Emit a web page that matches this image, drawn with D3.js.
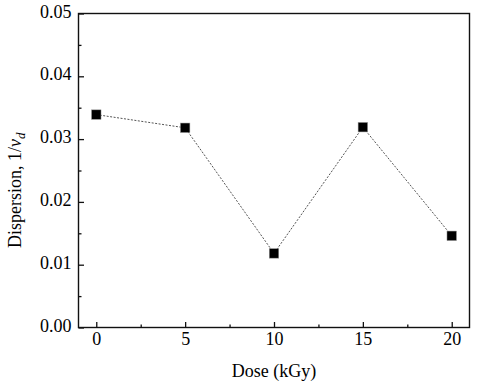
<!DOCTYPE html>
<html><head><meta charset="utf-8">
<script src="https://cdn.jsdelivr.net/npm/d3@7"></script>
<style>body{margin:0;background:#fff}svg{display:block}text{font-family:"Liberation Serif","Times New Roman",Times,serif;fill:#000}</style>
</head><body><svg id="c" width="481" height="385"></svg>
<script>
const doses = [0, 5, 10, 15, 20];
const dispersion = [0.0339, 0.0318, 0.0118, 0.0319, 0.0146];
const xTicks = [0, 5, 10, 15, 20];
const yTicks = [0.00, 0.01, 0.02, 0.03, 0.04, 0.05];
const xMinor = [2.5, 7.5, 12.5, 17.5];
const yMinor = [0.005, 0.015, 0.025, 0.035, 0.045];

const svg = d3.select("#c");
const L = 78.5, R = 469.5, T = 13.5, B = 327.5;
const x = d3.scaleLinear().domain([-1, 21]).range([L, R]);
const y = d3.scaleLinear().domain([0, 0.05]).range([B, T]);

const g = svg.append("g");
g.append("rect").attr("x", L).attr("y", T).attr("width", R - L).attr("height", B - T)
  .attr("fill", "none").attr("stroke", "#111").attr("stroke-width", 1.4);

g.append("g").attr("transform", `translate(0,${B})`)
  .call(d3.axisBottom(x).tickValues(xTicks).tickSize(-5.5).tickPadding(5).tickFormat(d3.format("d")));
g.append("g").attr("transform", `translate(${L},0)`)
  .call(d3.axisLeft(y).tickValues(yTicks).tickSize(-5.5).tickPadding(7).tickFormat(d3.format(".2f")));
g.append("g").attr("transform", `translate(0,${B})`)
  .call(d3.axisBottom(x).tickValues(xMinor).tickSize(-3).tickFormat(""));
g.append("g").attr("transform", `translate(${L},0)`)
  .call(d3.axisLeft(y).tickValues(yMinor).tickSize(-3).tickFormat(""));
g.selectAll(".domain").remove();
g.selectAll(".tick line").attr("stroke", "#111").attr("stroke-width", 1.3);
g.selectAll(".tick text").attr("font-size", 18);
g.selectAll("g.tick text").filter(function(){ return this.getAttribute("dy") === "0.32em"; }).attr("dy", "0.2em");

// line
const line = d3.line().x((d, i) => x(doses[i])).y(d => y(d));
g.append("path").datum(dispersion).attr("d", line).attr("fill", "none")
  .attr("stroke", "#555").attr("stroke-width", 1).attr("stroke-dasharray", "2,1.5");

g.selectAll("rect.pt").data(dispersion).enter().append("rect").attr("class", "pt")
  .attr("x", (d, i) => x(doses[i]) - 4.75).attr("y", d => y(d) - 4.75)
  .attr("width", 9.5).attr("height", 9.5).attr("fill", "#000")
  .attr("stroke", "#999").attr("stroke-width", 0.5);

// titles
svg.append("text").attr("x", (L + R) / 2).attr("y", 377).attr("text-anchor", "middle")
  .attr("font-size", 18).text("Dose (kGy)");
const yt = svg.append("text").attr("transform", `translate(21,248) rotate(-90)`)
  .attr("text-anchor", "start").attr("font-size", 18);
yt.append("tspan").text("Dispersion, 1/");
yt.append("tspan").attr("font-style", "italic").text("v");
yt.append("tspan").attr("font-style", "italic").attr("font-size", 13).attr("dy", 4).text("d");
</script></body></html>
